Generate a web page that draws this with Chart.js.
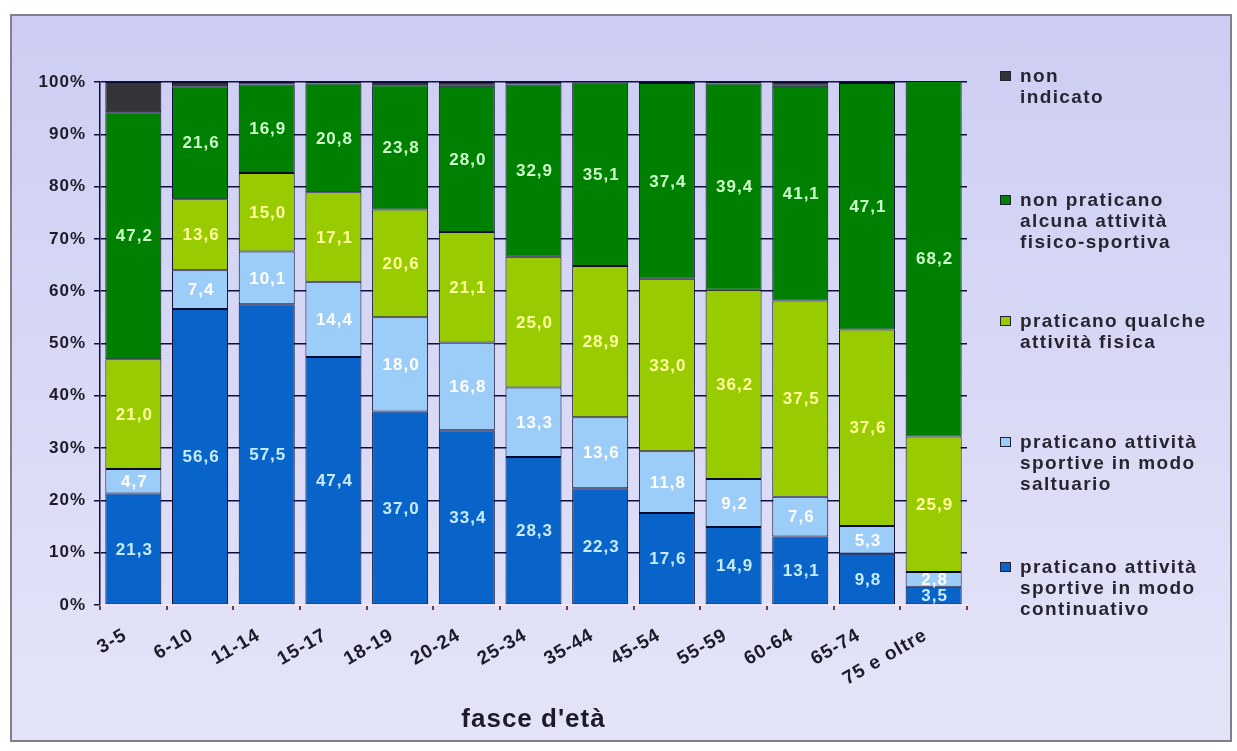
<!DOCTYPE html>
<html lang="it">
<head>
<meta charset="UTF-8">
<title>Pratica sportiva per fasce d'età</title>
<script src="https://cdn.jsdelivr.net/npm/chart.js"></script>
<style>
  body { margin: 0; background: #fff; font-family: "Liberation Sans", Arial, sans-serif; }
  #frame { position: absolute; left: 10px; top: 14px; width: 1218px; height: 724px;
           border: 2px solid #80808c; background: linear-gradient(#cdcdf3, #e4e4f8); }
  #box { position: absolute; left: 0; top: 0; width: 1218px; height: 724px; }
  .item { position: absolute; left: 988px; font-weight: bold; font-size: 19px; letter-spacing: 1.4px;
          line-height: 21px; color: #262630; }
  .item i { position: absolute; left: 0; top: 6px; width: 9px; height: 8px; border: 1px solid #223; }
  .item span { display: block; padding-left: 20px; }
</style>
</head>
<body>
<div id="frame">
  <div id="box"><canvas id="chart"></canvas></div>
  <div id="legend"></div>
</div>
<script>
const categories = ['3-5', '6-10', '11-14', '15-17', '18-19', '20-24', '25-34', '35-44', '45-54', '55-59', '60-64', '65-74', '75 e oltre'];
const continuativo = [21.3, 56.6, 57.5, 47.4, 37.0, 33.4, 28.3, 22.3, 17.6, 14.9, 13.1, 9.8, 3.5];
const saltuario = [4.7, 7.4, 10.1, 14.4, 18.0, 16.8, 13.3, 13.6, 11.8, 9.2, 7.6, 5.3, 2.8];
const qualche = [21.0, 13.6, 15.0, 17.1, 20.6, 21.1, 25.0, 28.9, 33.0, 36.2, 37.5, 37.6, 25.9];
const nonPraticano = [47.2, 21.6, 16.9, 20.8, 23.8, 28.0, 32.9, 35.1, 37.4, 39.4, 41.1, 47.1, 68.2];
const nonIndicato = [5.8, 0.8, 0.5, 0.3, 0.6, 0.7, 0.5, 0.1, 0.2, 0.3, 0.7, 0.2, 0.0];
const yTicks = [0, 10, 20, 30, 40, 50, 60, 70, 80, 90, 100];

const series = [
  { label: 'praticano attività sportive in modo continuativo', lines: ['praticano attività', 'sportive in modo', 'continuativo'], data: continuativo, color: '#0864c8', text: '#c8ecff' },
  { label: 'praticano attività sportive in modo saltuario', lines: ['praticano attività', 'sportive in modo', 'saltuario'], data: saltuario, color: '#9cccf8', text: '#ffffff' },
  { label: 'praticano qualche attività fisica', lines: ['praticano qualche', 'attività fisica'], data: qualche, color: '#99cc00', text: '#ffffa0' },
  { label: 'non praticano alcuna attività fisico-sportiva', lines: ['non praticano', 'alcuna attività', 'fisico-sportiva'], data: nonPraticano, color: '#008000', text: '#ccffcc' },
  { label: 'non indicato', lines: ['non', 'indicato'], data: nonIndicato, color: '#333338', text: null }
];

// legend, top to bottom
const legendTops = [49, 173, 294, 415, 540];
const legend = document.getElementById('legend');
series.slice().reverse().forEach((s, i) => {
  const d = document.createElement('div');
  d.className = 'item';
  d.style.top = legendTops[i] + 'px';
  d.innerHTML = `<i style="background:${s.color}"></i>` + s.lines.map(l => `<span>${l}</span>`).join('');
  legend.appendChild(d);
});

// the old chart has slightly wide letter spacing everywhere
const spacing = {
  id: 'spacing',
  beforeUpdate(chart) { chart.ctx.letterSpacing = '1px'; },
  beforeDraw(chart) { chart.ctx.letterSpacing = '1px'; }
};

const valueLabels = {
  id: 'valueLabels',
  afterDatasetsDraw(chart) {
    const ctx = chart.ctx;
    ctx.save();
    ctx.font = 'bold 17px "Liberation Sans", Arial, sans-serif';
    ctx.textAlign = 'center';
    ctx.textBaseline = 'middle';
    chart.data.datasets.forEach((ds, i) => {
      if (!series[i].text) return;
      chart.getDatasetMeta(i).data.forEach((bar, j) => {
        const p = bar.getProps(['x', 'y', 'base'], true);
        ctx.fillStyle = series[i].text;
        ctx.fillText(ds.data[j].toFixed(1).replace('.', ','), p.x + 1, (p.y + p.base) / 2 + 1);
      });
    });
    ctx.restore();
  }
};

const font = '"Liberation Sans", Arial, sans-serif';

new Chart(document.getElementById('chart'), {
  type: 'bar',
  data: {
    labels: categories,
    datasets: series.map(s => ({
      label: s.label,
      data: s.data,
      backgroundColor: s.color,
      borderColor: '#0a0a30',
      borderWidth: 1,
      borderSkipped: false,
      barPercentage: 0.84,
      categoryPercentage: 1
    }))
  },
  options: {
    responsive: true,
    maintainAspectRatio: false,
    animation: false,
    layout: { padding: { top: 66, right: 263, left: 0, bottom: 0 } },
    plugins: { legend: { display: false }, tooltip: { enabled: false } },
    scales: {
      x: {
        stacked: true,
        afterFit: s => { s.height = 135; },
        grid: { display: true, drawOnChartArea: false, offset: true, tickLength: 5, color: '#704040', lineWidth: 2 },
        border: { display: true, color: '#f4e8f0', width: 2 },
        ticks: { minRotation: 30, maxRotation: 30, padding: 14, labelOffset: -8, color: '#1c1c28', font: { family: font, size: 19, weight: 'bold' } },
        title: { display: true, text: "fasce d'età", color: '#1c1c28', padding: { top: 10, bottom: 5 }, font: { family: font, size: 26, weight: 'bold' } }
      },
      y: {
        stacked: true,
        min: 0,
        max: 100,
        afterFit: s => { s.width = 88; },
        afterBuildTicks: s => { s.ticks = yTicks.map(v => ({ value: v })); },
        grid: { color: '#101040', lineWidth: 1.5, tickLength: 6 },
        border: { display: true, color: '#101040', width: 1.5 },
        ticks: { padding: 8, color: '#1c1c28', callback: v => v + '%', font: { family: font, size: 17, weight: 'bold' } }
      }
    }
  },
  plugins: [spacing, valueLabels]
});
</script>
</body>
</html>
